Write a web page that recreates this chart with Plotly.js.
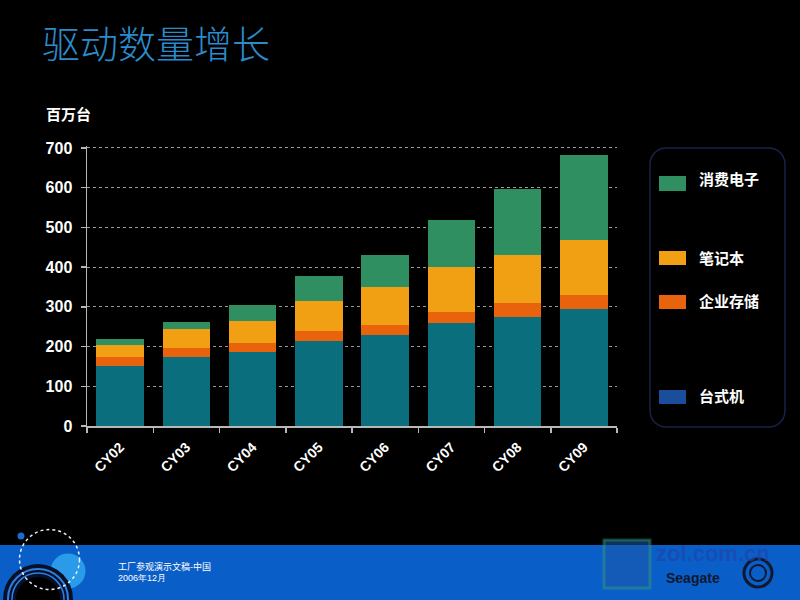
<!DOCTYPE html>
<html>
<head>
<meta charset="utf-8">
<script src="https://cdn.plot.ly/plotly-3.0.1.min.js"></script>
<style>
  html, body { margin: 0; padding: 0; background: #000; }
  #chart { width: 800px; height: 600px; }
</style>
</head>
<body>
<div id="chart"></div>
<script>
// Drive shipments by segment, millions of units
const categories = ['CY02', 'CY03', 'CY04', 'CY05', 'CY06', 'CY07', 'CY08', 'CY09'];
const desktop    = [150, 175, 187, 213, 229, 260, 274, 295];   // 台式机
const enterprise = [24, 21, 23, 27, 26, 28, 35, 34];           // 企业存储
const notebook   = [31, 47, 54, 75, 96, 112, 121, 140];        // 笔记本
const consumer   = [13, 18, 40, 63, 80, 119, 167, 213];        // 消费电子

const seriesNames = ['台式机', '企业存储', '笔记本', '消费电子'];
const seriesData  = [desktop, enterprise, notebook, consumer];
const barColors   = ['#0b6e7c', '#e9620c', '#f0a012', '#2f8f60'];
const keyColors   = ['#1a4e9c', '#e9620c', '#f0a012', '#2f8f60'];

const yTicks = [0, 100, 200, 300, 400, 500, 600, 700];

// plot area in page pixels
const W = 800, H = 600;
const M = { l: 87, r: 183, t: 146, b: 174 };
const pw = W - M.l - M.r, ph = H - M.t - M.b;
const px = x => (x - M.l) / pw;          // page x -> paper x
const py = y => (H - M.b - y) / ph;      // page y -> paper y

const traces = seriesData.map((vals, i) => ({
  type: 'bar',
  name: seriesNames[i],
  x: categories,
  y: vals,
  marker: { color: barColors[i], line: { width: 0 } },
  showlegend: false,
  hoverinfo: 'x+y+name'
}));

function rect(x0, y0, x1, y1, fill, extra) {
  return Object.assign({ type: 'rect', xref: 'paper', yref: 'paper',
    x0: px(x0), x1: px(x1), y0: py(y1), y1: py(y0),
    fillcolor: fill, line: { width: 0 }, layer: 'above' }, extra || {});
}
function circle(cx, cy, r, fill, line) {
  return { type: 'circle', xref: 'paper', yref: 'paper',
    x0: px(cx - r), x1: px(cx + r), y0: py(cy + r), y1: py(cy - r),
    fillcolor: fill, line: line || { width: 0 }, layer: 'above' };
}
function roundedBox(x0, y0, x1, y1, r) {
  const X = v => px(v), Y = v => py(v);
  const pts = [];
  const corner = (cx, cy, a0) => {
    for (let k = 0; k <= 6; k++) {
      const a = (a0 + k * 15) * Math.PI / 180;
      pts.push([cx + r * Math.cos(a), cy - r * Math.sin(a)]);
    }
  };
  corner(x1 - r, y0 + r, 0);     // top-right
  corner(x0 + r, y0 + r, 90);    // top-left
  corner(x0 + r, y1 - r, 180);   // bottom-left
  corner(x1 - r, y1 - r, 270);   // bottom-right
  const d = 'M' + pts.map(p => X(p[0]) + ',' + Y(p[1])).join(' L') + ' Z';
  return { type: 'path', xref: 'paper', yref: 'paper', path: d,
    fillcolor: 'rgba(0,0,0,0)', line: { color: '#18224a', width: 1.5 }, layer: 'above' };
}

const shapes = [];
const annotations = [];

// legend panel
shapes.push(roundedBox(650, 148, 785, 427, 16));
const keyY = [397, 302, 258, 184];   // desktop, enterprise, notebook, consumer
const textY = [395, 300, 257, 178];
seriesNames.forEach((name, i) => {
  const sy0 = i === 3 ? 176 : keyY[i] - 7;
  const sy1 = i === 3 ? 191 : keyY[i] + 7;
  shapes.push(rect(659, sy0, 686, sy1, keyColors[i]));
  annotations.push({ xref: 'paper', yref: 'paper', x: px(697), y: py(textY[i]),
    xanchor: 'left', yanchor: 'middle', showarrow: false,
    text: '<b>' + name + '</b>',
    font: { family: 'Noto Sans CJK SC', size: 15, color: '#ffffff' } });
});

// unit label
annotations.push({ xref: 'paper', yref: 'paper', x: px(44), y: py(113),
  xanchor: 'left', yanchor: 'middle', showarrow: false, text: '<b>百万台</b>',
  font: { family: 'Noto Sans CJK SC', size: 15, color: '#ffffff' } });

// footer band
shapes.push(rect(0, 545, 800, 600, '#0a5ec8'));
// footer ornament, bottom left
shapes.push(circle(21, 536, 3.5, '#1a6dd0'));
shapes.push(circle(68, 571, 17.5, '#2a9be8'));
shapes.push(circle(38, 599, 35, '#06102a'));
shapes.push(circle(38, 599, 30, 'rgba(0,0,0,0)', { color: '#2f7fe0', width: 2 }));
shapes.push(circle(38, 599, 26, 'rgba(0,0,0,0)', { color: '#2f7fe0', width: 1.5 }));
shapes.push(circle(38, 599, 22, '#000000'));
shapes.push(circle(49.5, 559.5, 30, 'rgba(0,0,0,0)', { color: '#e8f4ff', width: 1.5, dash: 'dot' }));

annotations.push({ xref: 'paper', yref: 'paper', x: px(116), y: py(566),
  xanchor: 'left', yanchor: 'middle', showarrow: false, text: '工厂参观演示文稿-中国',
  font: { family: 'Noto Sans CJK SC', size: 9, color: '#ffffff' } });
annotations.push({ xref: 'paper', yref: 'paper', x: px(116), y: py(578),
  xanchor: 'left', yanchor: 'middle', showarrow: false, text: '2006年12月',
  font: { family: 'Liberation Sans', size: 9, color: '#ffffff' } });

// footer logos, bottom right
shapes.push(rect(604, 540, 650, 588, 'rgba(30,90,170,0.55)',
  { line: { color: 'rgba(50,160,110,0.45)', width: 3 } }));
annotations.push({ xref: 'paper', yref: 'paper', x: px(654), y: py(553),
  xanchor: 'left', yanchor: 'middle', showarrow: false, text: '<b>zol.com.cn</b>',
  font: { family: 'Liberation Sans', size: 22, color: 'rgba(30,70,170,0.7)' } });
annotations.push({ xref: 'paper', yref: 'paper', x: px(664), y: py(578),
  xanchor: 'left', yanchor: 'middle', showarrow: false, text: '<b>Seagate</b>',
  font: { family: 'Liberation Sans', size: 14, color: '#101830' } });
shapes.push(circle(758, 573, 14, 'rgba(0,0,0,0)', { color: '#101830', width: 3 }));
shapes.push(circle(758, 573, 8, 'rgba(0,0,0,0)', { color: '#101830', width: 2 }));

const layout = {
  width: W, height: H,
  margin: M,
  paper_bgcolor: '#000000',
  plot_bgcolor: '#000000',
  barmode: 'stack',
  bargap: 0.285,
  showlegend: false,
  title: {
    text: '驱动数量增长',
    x: 42 / W, xanchor: 'left', xref: 'container',
    y: 1 - 45 / H, yanchor: 'middle', yref: 'container',
    font: { family: 'Noto Sans CJK SC', size: 38, color: '#2a8ccc', weight: 300 }
  },
  xaxis: {
    type: 'category',
    tickson: 'boundaries',
    ticks: 'outside', ticklen: 5, tickcolor: '#b8b8b8', tickwidth: 1.5,
    tickangle: -45,
    ticklabelstandoff: 6,
    tickfont: { family: 'Liberation Sans', size: 14, color: '#ffffff', weight: 'bold' },
    showline: true, linecolor: '#b8b8b8', linewidth: 1.5,
    showgrid: false, zeroline: false,
    fixedrange: true
  },
  yaxis: {
    range: [0, 705],
    tickvals: yTicks,
    ticks: 'outside', ticklen: 5, tickcolor: '#b8b8b8', tickwidth: 1.5,
    ticklabelstandoff: 5,
    tickfont: { family: 'Liberation Sans', size: 16, color: '#ffffff', weight: 'bold' },
    showline: true, linecolor: '#b8b8b8', linewidth: 1.5,
    showgrid: true, gridcolor: '#9a9a9a', griddash: 'dot', gridwidth: 1,
    zeroline: false,
    fixedrange: true
  },
  shapes: shapes,
  annotations: annotations
};

Plotly.newPlot('chart', traces, layout, { displayModeBar: false, staticPlot: true });
</script>
</body>
</html>
